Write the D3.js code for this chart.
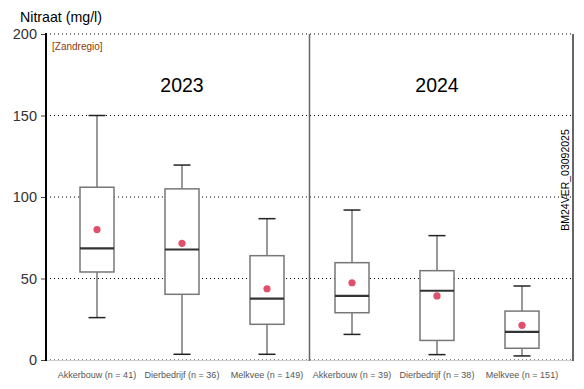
<!DOCTYPE html>
<html><head><meta charset="utf-8">
<script src="https://cdn.jsdelivr.net/npm/d3@7"></script>
<style>body{margin:0;background:#fff}svg{display:block}text{font-family:"Liberation Sans",Arial,sans-serif}</style>
</head><body>
<svg id="c" width="584" height="389"></svg>
<script>
const categories = ["Akkerbouw (n = 41)","Dierbedrijf (n = 36)","Melkvee (n = 149)","Akkerbouw (n = 39)","Dierbedrijf (n = 38)","Melkvee (n = 151)"];
const years = ["2023","2024"];
const whiskerLow  = [26, 3.5, 3.5, 15.7, 3.3, 2.5];
const q1          = [54, 40.3, 21.9, 29, 12, 7.2];
const median      = [68.5, 67.8, 37.6, 39.4, 42.5, 17.2];
const q3          = [106, 105, 64, 59.7, 54.8, 30];
const whiskerHigh = [150, 119.6, 86.7, 92, 76.3, 45.4];
const mean        = [80, 71.6, 43.7, 47.4, 39.3, 21.3];
const yTicks = [0, 50, 100, 150, 200];

const svg = d3.select("#c");
const L = 46, R = 573, T = 34, B = 360;
const x = d3.scaleLinear().domain([0.4, 6.6]).range([L, R]);
const y = d3.scaleLinear().domain([0, 200]).range([B, T]);
const bw = x(1.2) - x(0.8);

// grid
svg.append("g").selectAll("line").data(yTicks).join("line")
  .attr("x1", L).attr("x2", R).attr("y1", d => y(d)).attr("y2", d => y(d))
  .attr("stroke", "#000").attr("stroke-width", 1).attr("stroke-dasharray", "1,3");
svg.append("line").attr("x1", L).attr("x2", R).attr("y1", B+0.5).attr("y2", B+0.5).attr("stroke", "#ccc").attr("stroke-width", 1);

// y axis
const ax = svg.append("g").attr("transform", `translate(${L},0)`)
  .call(d3.axisLeft(y).tickValues(yTicks).tickSize(5).tickPadding(4));
ax.select(".domain").remove();
ax.selectAll(".tick line").attr("stroke", "#444");
ax.selectAll(".tick text").attr("font-size", 14.5).attr("fill", "#333");
svg.append("line").attr("x1", L).attr("x2", L).attr("y1", T-1).attr("y2", B+1).attr("stroke", "#000").attr("stroke-width", 2);
svg.append("line").attr("x1", R).attr("x2", R).attr("y1", T).attr("y2", B+1).attr("stroke", "#000").attr("stroke-width", 1.2);
svg.append("line").attr("x1", x(3.5)).attr("x2", x(3.5)).attr("y1", T).attr("y2", B+1).attr("stroke", "#666").attr("stroke-width", 1.5);

// boxes
const idx = d3.range(categories.length);
const g = svg.append("g");
idx.forEach(i => {
  const cx = x(i+1);
  g.append("line").attr("x1", cx).attr("x2", cx).attr("y1", y(q3[i])).attr("y2", y(whiskerHigh[i])).attr("stroke", "#777").attr("stroke-width", 1.5);
  g.append("line").attr("x1", cx).attr("x2", cx).attr("y1", y(q1[i])).attr("y2", y(whiskerLow[i])).attr("stroke", "#777").attr("stroke-width", 1.5);
  [whiskerHigh[i], whiskerLow[i]].forEach(v => {
    g.append("line").attr("x1", cx - bw/4).attr("x2", cx + bw/4).attr("y1", y(v)).attr("y2", y(v)).attr("stroke", "#222").attr("stroke-width", 1.5);
  });
  g.append("rect").attr("x", cx - bw/2).attr("y", y(q3[i])).attr("width", bw).attr("height", y(q1[i]) - y(q3[i]))
    .attr("fill", "#fff").attr("stroke", "#777").attr("stroke-width", 1.5);
  g.append("line").attr("x1", cx - bw/2).attr("x2", cx + bw/2).attr("y1", y(median[i])).attr("y2", y(median[i])).attr("stroke", "#333").attr("stroke-width", 2.2);
  g.append("circle").attr("cx", cx).attr("cy", y(mean[i])).attr("r", 3.6).attr("fill", "#e0506a");
});

// category labels
svg.append("g").selectAll("text").data(categories).join("text")
  .attr("x", (d, i) => x(i+1)).attr("y", 378).attr("text-anchor", "middle")
  .attr("font-size", 9).attr("fill", "#555").text(d => d);

// year labels
svg.append("g").selectAll("text").data(years).join("text")
  .attr("x", (d, i) => x(2 + 3*i)).attr("y", 92).attr("text-anchor", "middle")
  .attr("font-size", 19.5).attr("fill", "#000").text(d => d);

svg.append("text").attr("x", 20).attr("y", 22).attr("font-size", 14.2).attr("fill", "#000").text("Nitraat (mg/l)");
svg.append("text").attr("x", 52).attr("y", 50).attr("font-size", 10).attr("fill", "#8b3a0e").text("[Zandregio]");
svg.append("text").attr("transform", `translate(569,180) rotate(-90)`).attr("text-anchor", "middle")
  .attr("font-size", 10.5).attr("fill", "#000").text("BM24VER_03092025");
</script>
</body></html>
